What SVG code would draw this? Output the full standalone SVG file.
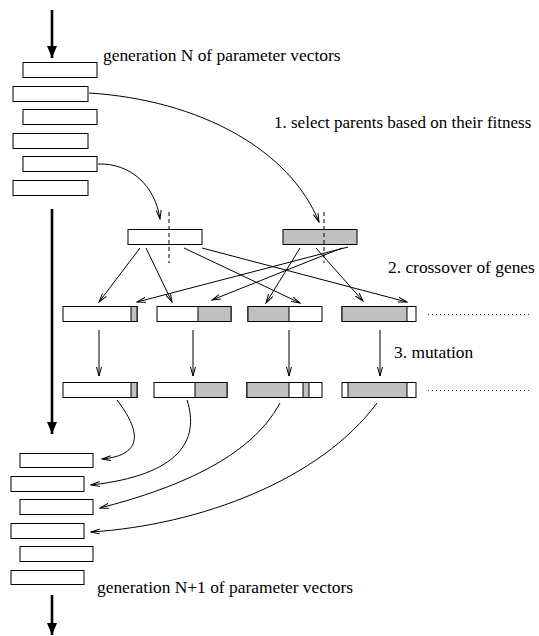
<svg xmlns="http://www.w3.org/2000/svg" width="539" height="636" viewBox="0 0 539 636">
<defs>
<style>
.box{fill:#fff;stroke:#000;stroke-width:1}
.g{fill:#c0c0c0;stroke:#000;stroke-width:1}
.con{fill:none;stroke:#000;stroke-width:1;marker-end:url(#ah)}
.big{fill:none;stroke:#000;stroke-width:2.6;marker-end:url(#bh)}
.dash{stroke:#000;stroke-width:1;stroke-dasharray:4 3}
.dot{stroke:#000;stroke-width:0.8;stroke-dasharray:1 3}
.t{font-family:"Liberation Serif","DejaVu Serif","Times New Roman",serif;font-size:17.4px;fill:#000}
</style>
<marker id="ah" markerWidth="10" markerHeight="6" refX="9" refY="3" orient="auto" markerUnits="userSpaceOnUse">
<path d="M0,0.5 L9,3 L0,5.5" fill="none" stroke="#000" stroke-width="1"/>
</marker>
<marker id="bh" markerWidth="12" markerHeight="12" refX="12" refY="5" orient="auto" markerUnits="userSpaceOnUse">
<path d="M0,0 L12,5 L0,10 Z" fill="#000"/>
</marker>
</defs>
<rect width="539" height="636" fill="#fff"/>

<g id="labels">
<text class="t" x="103" y="61" font-family="Liberation Serif, DejaVu Serif, serif">generation N of parameter vectors</text>
<text class="t" x="274" y="128" font-family="Liberation Serif, DejaVu Serif, serif" style="font-size:17px">1. select parents based on their fitness</text>
<text class="t" x="388" y="273" font-family="Liberation Serif, DejaVu Serif, serif">2. crossover of genes</text>
<text class="t" x="394" y="358" font-family="Liberation Serif, DejaVu Serif, serif">3. mutation</text>
<text class="t" x="97" y="593" font-family="Liberation Serif, DejaVu Serif, serif">generation N+1 of parameter vectors</text>
</g>

<g id="genN">
<rect class="box" x="23" y="62.5" width="74" height="15"/>
<rect class="box" x="13" y="86.5" width="75" height="15"/>
<rect class="box" x="23" y="109.5" width="74" height="15"/>
<rect class="box" x="13" y="133.5" width="75" height="15"/>
<rect class="box" x="23" y="156.5" width="74" height="15"/>
<rect class="box" x="13" y="180.5" width="75" height="15"/>
</g>

<g id="parent1">
<rect class="box" x="128" y="229.5" width="74" height="15"/>
<line class="dash" x1="169" y1="212" x2="169" y2="263"/>
</g>
<g id="parent2">
<rect class="g" x="283" y="229.5" width="74" height="15"/>
<line class="dash" x1="324" y1="212" x2="324" y2="263"/>
</g>

<g id="child1">
<rect class="box" x="63" y="306.5" width="74" height="15"/>
<rect class="g" x="131" y="306.5" width="6" height="15"/>
</g>
<g id="child2">
<rect class="box" x="157" y="306.5" width="74" height="15"/>
<rect class="g" x="198" y="306.5" width="33" height="15"/>
</g>
<g id="child3">
<rect class="box" x="248" y="306.5" width="74" height="15"/>
<rect class="g" x="248" y="306.5" width="41" height="15"/>
</g>
<g id="child4">
<rect class="box" x="342" y="306.5" width="74" height="15"/>
<rect class="g" x="342" y="306.5" width="65" height="15"/>
</g>
<line class="dot" x1="428" y1="314.5" x2="530" y2="314.5"/>

<g id="mut1">
<rect class="box" x="63" y="382.5" width="74" height="15"/>
<rect class="g" x="131" y="382.5" width="6" height="15"/>
</g>
<g id="mut2">
<rect class="box" x="154" y="382.5" width="73" height="15"/>
<rect class="g" x="195" y="382.5" width="32" height="15"/>
</g>
<g id="mut3">
<rect class="box" x="247" y="382.5" width="75" height="15"/>
<rect class="g" x="247" y="382.5" width="42" height="15"/>
<rect class="g" x="303" y="382.5" width="6" height="15"/>
</g>
<g id="mut4">
<rect class="box" x="342" y="382.5" width="74" height="15"/>
<rect class="g" x="348" y="382.5" width="59" height="15"/>
</g>
<line class="dot" x1="428" y1="390.5" x2="530" y2="390.5"/>

<g id="genN1">
<rect class="box" x="20" y="453.5" width="73" height="14"/>
<rect class="box" x="11" y="476.5" width="73" height="15"/>
<rect class="box" x="20" y="499.5" width="73" height="15"/>
<rect class="box" x="11" y="523.5" width="73" height="15"/>
<rect class="box" x="20" y="546.5" width="73" height="15"/>
<rect class="box" x="11" y="570.5" width="73" height="14"/>
</g>

<g id="connectors">
<line class="big" x1="52" y1="10" x2="52" y2="58"/>
<line class="big" x1="52" y1="209" x2="52" y2="434"/>
<line class="big" x1="52" y1="595" x2="52" y2="635"/>

<path class="con" d="M89,93 C200,100 290,150 319,222"/>
<path class="con" d="M98,164 C130,163 155,185 160,219"/>

<line class="con" x1="140" y1="248" x2="99" y2="302"/>
<line class="con" x1="146" y1="248" x2="172" y2="302"/>
<line class="con" x1="184" y1="248" x2="300" y2="303"/>
<line class="con" x1="202" y1="248" x2="407" y2="302"/>
<line class="con" x1="300" y1="248" x2="266" y2="303"/>
<line class="con" x1="316" y1="248" x2="363" y2="301"/>
<line class="con" x1="348" y1="247" x2="137" y2="302"/>
<line class="con" x1="342" y1="248" x2="212" y2="300"/>

<line class="con" x1="99" y1="330" x2="99" y2="376"/>
<line class="con" x1="193" y1="330" x2="193" y2="376"/>
<line class="con" x1="289" y1="330" x2="289" y2="376"/>
<line class="con" x1="380" y1="330" x2="380" y2="376"/>

<path class="con" d="M117,400 C140,430 145,455 102,459"/>
<path class="con" d="M187,400 C200,440 180,475 91,485"/>
<path class="con" d="M280,403 C250,460 170,490 100,508"/>
<path class="con" d="M377,403 C320,480 200,525 91,532"/>
</g>
</svg>
